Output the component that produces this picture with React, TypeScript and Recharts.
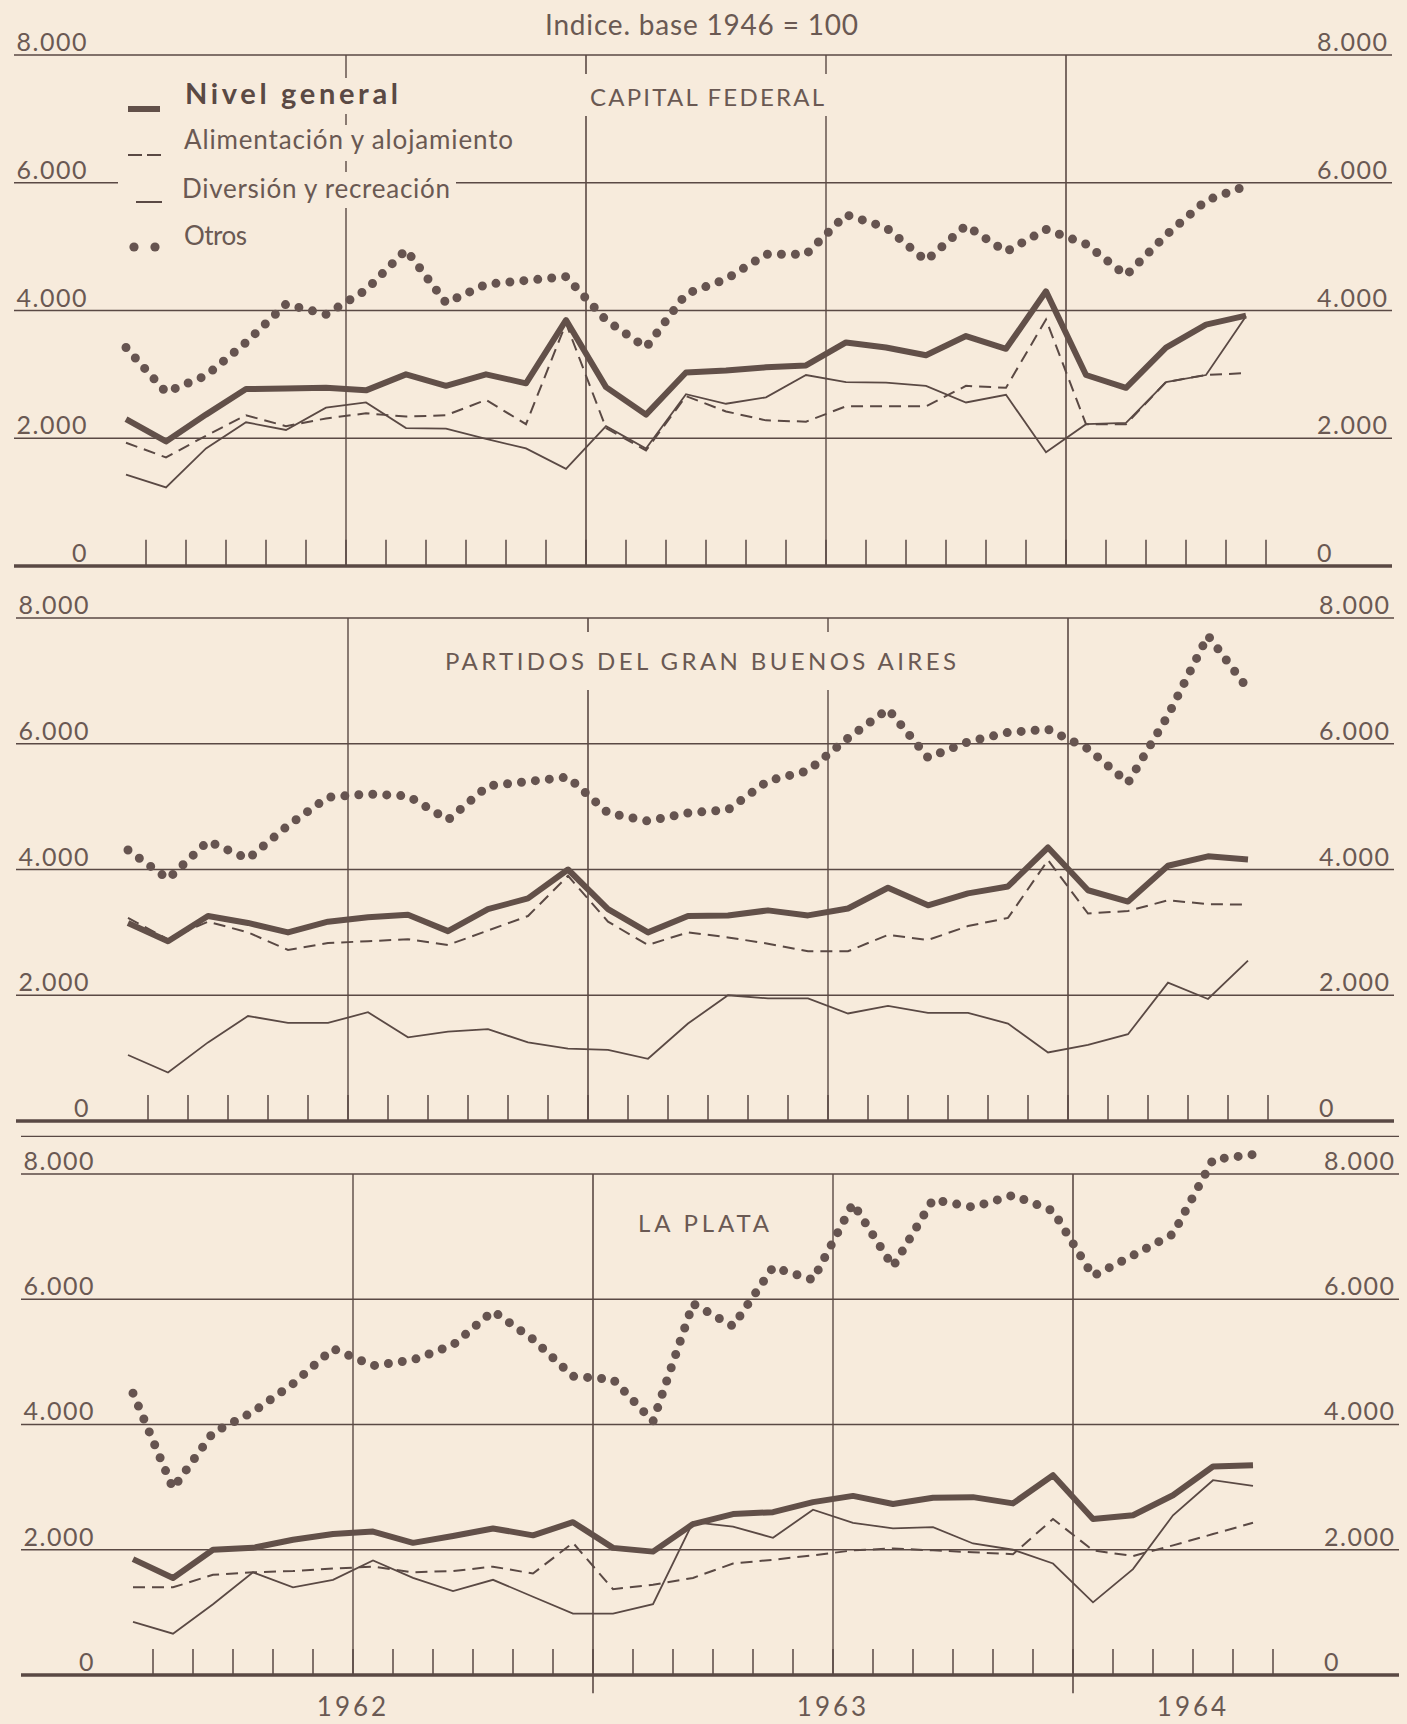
import React from 'react';
import { LineChart, Line, XAxis, YAxis, CartesianGrid, ReferenceLine } from 'recharts';

// ---------- DATA ----------
const months = [
  '1962-01', '1962-02', '1962-03', '1962-04', '1962-05', '1962-06', '1962-07', '1962-08', '1962-09', '1962-10', '1962-11', '1962-12',
  '1963-01', '1963-02', '1963-03', '1963-04', '1963-05', '1963-06', '1963-07', '1963-08', '1963-09', '1963-10', '1963-11', '1963-12',
  '1964-01', '1964-02', '1964-03', '1964-04', '1964-05',
];

// Capital Federal
const capNivel = [2300, 1950, 2370, 2770, 2780, 2790, 2750, 3000, 2820, 3000, 2860, 3850, 2800, 2370, 3030, 3060, 3110, 3140, 3500, 3420, 3300, 3600, 3400, 4300, 2990, 2790, 3420, 3780, 3920];
const capAlim = [1930, 1700, 2040, 2360, 2190, 2310, 2390, 2340, 2360, 2600, 2220, 3800, 2160, 1810, 2660, 2420, 2280, 2260, 2500, 2500, 2500, 2820, 2790, 3860, 2220, 2220, 2880, 2990, 3020];
const capDiv = [1430, 1230, 1840, 2250, 2130, 2480, 2560, 2160, 2150, 1990, 1840, 1520, 2190, 1840, 2690, 2540, 2640, 2990, 2880, 2870, 2820, 2560, 2680, 1780, 2220, 2240, 2880, 2990, 3910];
const capOtros = [3420, 2720, 2980, 3500, 4100, 3940, 4320, 4950, 4120, 4410, 4470, 4530, 3850, 3420, 4260, 4490, 4880, 4880, 5500, 5300, 4780, 5330, 4920, 5270, 5040, 4550, 5180, 5720, 5950];

// Partidos del Gran Buenos Aires
const gbaNivel = [3150, 2860, 3260, 3150, 3000, 3170, 3240, 3280, 3020, 3370, 3540, 4000, 3370, 3000, 3260, 3270, 3350, 3270, 3380, 3710, 3430, 3620, 3730, 4350, 3670, 3490, 4060, 4210, 4160];
const gbaAlim = [3230, 2890, 3170, 3000, 2720, 2830, 2860, 2890, 2800, 3030, 3260, 3900, 3170, 2800, 3000, 2920, 2820, 2700, 2700, 2960, 2880, 3100, 3230, 4150, 3300, 3340, 3510, 3450, 3440];
const gbaDiv = [1050, 770, 1250, 1670, 1560, 1560, 1730, 1330, 1420, 1460, 1250, 1150, 1130, 990, 1550, 2000, 1950, 1950, 1710, 1830, 1720, 1720, 1550, 1090, 1210, 1380, 2200, 1940, 2550];
const gbaOtros = [4310, 3850, 4450, 4170, 4700, 5150, 5200, 5170, 4790, 5330, 5400, 5470, 4900, 4770, 4900, 4950, 5410, 5570, 6090, 6550, 5780, 6030, 6180, 6230, 5920, 5380, 6450, 7720, 6870];

// La Plata
const lpNivel = [1850, 1550, 2000, 2030, 2160, 2250, 2290, 2110, 2220, 2340, 2230, 2440, 2030, 1970, 2410, 2570, 2600, 2760, 2860, 2730, 2830, 2840, 2740, 3190, 2490, 2550, 2870, 3330, 3350];
const lpAlim = [1400, 1400, 1600, 1640, 1660, 1700, 1730, 1640, 1660, 1730, 1620, 2110, 1370, 1440, 1550, 1780, 1840, 1910, 1990, 2020, 1990, 1960, 1930, 2490, 1990, 1900, 2070, 2250, 2430];
const lpDiv = [850, 660, 1130, 1640, 1400, 1520, 1830, 1550, 1340, 1520, 1250, 980, 980, 1130, 2440, 2370, 2190, 2640, 2430, 2340, 2360, 2100, 2000, 1780, 1160, 1690, 2550, 3110, 3020];
const lpOtros = [4500, 2980, 3870, 4200, 4650, 5210, 4940, 5030, 5270, 5810, 5360, 4770, 4720, 4050, 5930, 5570, 6510, 6310, 7530, 6520, 7590, 7470, 7660, 7410, 6370, 6700, 7040, 8230, 8310];

const yTickValues = [0, 2000, 4000, 6000, 8000];
// month boundaries (months since 1 Jan 1962)
const monthTicks = [1, 2, 3, 4, 5, 6, 7, 8, 9, 10, 11, 12, 13, 14, 15, 16, 17, 18, 19, 20, 21, 22, 23, 24, 25, 26, 27, 28, 29];
const halfYearLines = [6, 18];
const yearLines = [12, 24];
const yearLabels = [
  { t: 6, label: '1962' },
  { t: 18, label: '1963' },
  { t: 27, label: '1964' },
];

const seriesLegend = [
  { key: 'nivel', label: 'Nivel general' },
  { key: 'alim', label: 'Alimentación y alojamiento' },
  { key: 'div', label: 'Diversión y recreación' },
  { key: 'otros', label: 'Otros' },
];

const panels = [
  { id: 'cap', title: 'CAPITAL FEDERAL', nivel: capNivel, alim: capAlim, div: capDiv, otros: capOtros },
  { id: 'gba', title: 'PARTIDOS DEL GRAN BUENOS AIRES', nivel: gbaNivel, alim: gbaAlim, div: gbaDiv, otros: gbaOtros },
  { id: 'lp', title: 'LA PLATA', nivel: lpNivel, alim: lpAlim, div: lpDiv, otros: lpOtros },
];

// ---------- STYLE / LAYOUT ----------
const W = 1407;
const H = 1724;
const PAPER = '#f7ebdc';
const INK = '#5a4944';
const TEXT = '#6a5953';
const FONT = "Lato, 'Noto Sans', 'DejaVu Sans', sans-serif";
const X_DOMAIN: [number, number] = [-2.3, 32.15];

const LAYOUT: Record<string, any> = {
  cap: { top: 0, left: 0, height: 600, mTop: 55, axisH: 34, yMax: 8000, tickLen: 410, years: false },
  gba: { top: 585, left: 2, height: 566, mTop: 33, axisH: 30, yMax: 8000, tickLen: 415, years: false },
  lp: { top: 1120, left: 7, height: 604, mTop: 16.4, axisH: 49, yMax: 8600, tickLen: 415, years: true },
};

const fmt = (v: number) => (v === 0 ? '0' : `${Math.floor(v / 1000)}.${String(v % 1000).padStart(3, '0')}`);

const YTick = (props: any) => {
  const { y, payload } = props;
  const label = fmt(payload.value);
  return (
    <g>
      <text x={88} y={y - 4} textAnchor="end" fill={TEXT} fontFamily={FONT} fontSize={25} letterSpacing={1.5}>
        {label}
      </text>
      <text x={1317} y={y - 4} textAnchor="start" fill={TEXT} fontFamily={FONT} fontSize={25} letterSpacing={1.5}>
        {label}
      </text>
    </g>
  );
};

const makeYearTick = (baseline: number) => (props: any) => {
  const { x, payload } = props;
  const item = yearLabels.find((d) => d.t === payload.value);
  return (
    <text x={x} y={baseline} textAnchor="middle" fill={TEXT} fontFamily={FONT} fontSize={26} letterSpacing={3}>
      {item ? item.label : ''}
    </text>
  );
};

const Panel = ({ panel }: { panel: any }) => {
  const L = LAYOUT[panel.id];
  const rows = months.map((m, i) => ({
    month: m,
    t: i + 0.5,
    nivel: panel.nivel[i],
    alim: panel.alim[i],
    div: panel.div[i],
    otros: panel.otros[i],
  }));
  const plotBottom = L.height - L.axisH;
  return (
    <div style={{ position: 'absolute', left: L.left, top: L.top }}>
      <LineChart width={W} height={L.height} data={rows} margin={{ top: L.mTop, right: 15, bottom: 0, left: 0 }}>
        <CartesianGrid vertical={false} stroke={INK} strokeWidth={1.3} />
        <XAxis
          type="number"
          dataKey="t"
          domain={X_DOMAIN}
          height={L.axisH}
          axisLine={false}
          tickLine={false}
          ticks={L.years ? yearLabels.map((d) => d.t) : []}
          interval={0}
          tick={L.years ? makeYearTick(plotBottom + 41) : false}
        />
        <YAxis
          type="number"
          domain={[0, L.yMax]}
          ticks={yTickValues}
          interval={0}
          width={14}
          axisLine={false}
          tickLine={false}
          tick={YTick}
        />
        {halfYearLines.map((t) => (
          <ReferenceLine key={`h${t}`} segment={[{ x: t, y: 0 }, { x: t, y: 8000 }]} stroke={INK} strokeWidth={1.4} ifOverflow="visible" />
        ))}
        {yearLines.map((t) => (
          <ReferenceLine
            key={`y${t}`}
            segment={[{ x: t, y: L.years ? -290 : 0 }, { x: t, y: 8000 }]}
            stroke={INK}
            strokeWidth={1.6}
            ifOverflow="visible"
          />
        ))}
        {monthTicks.map((t) => (
          <ReferenceLine key={`m${t}`} segment={[{ x: t, y: 0 }, { x: t, y: L.tickLen }]} stroke={INK} strokeWidth={1.5} ifOverflow="visible" />
        ))}
        <ReferenceLine y={0} stroke={INK} strokeWidth={3.5} />
        <Line type="linear" dataKey="div" stroke={INK} strokeWidth={1.8} dot={false} activeDot={false} isAnimationActive={false} />
        <Line
          type="linear"
          dataKey="alim"
          stroke={INK}
          strokeWidth={2}
          strokeDasharray="12 7"
          dot={false}
          activeDot={false}
          isAnimationActive={false}
        />
        <Line
          type="linear"
          dataKey="otros"
          stroke="#665450"
          strokeWidth={9}
          strokeDasharray="0 14"
          strokeLinecap="round"
          dot={false}
          activeDot={false}
          isAnimationActive={false}
        />
        <Line
          type="linear"
          dataKey="nivel"
          stroke="#625049"
          strokeWidth={6}
          strokeLinejoin="round"
          dot={false}
          activeDot={false}
          isAnimationActive={false}
        />
      </LineChart>
    </div>
  );
};

const titleBoxes = [
  { id: 'cap', x: 590, y: 106, len: 234, box: [581, 74, 248, 42] },
  { id: 'gba', x: 445, y: 670, len: 511, box: [438, 632, 525, 58] },
  { id: 'lp', x: 638, y: 1232, len: 131, box: [632, 1210, 143, 30] },
];

const legendRows = [
  { key: 'nivel', x: 185, y: 104, len: 213, size: 29, weight: 700, box: [118, 78, 290, 36] },
  { key: 'alim', x: 184, y: 149, len: 329, size: 26, weight: 400, box: [118, 125, 402, 36] },
  { key: 'div', x: 182, y: 198, len: 268, size: 26, weight: 400, box: [118, 172, 338, 36] },
  { key: 'otros', x: 184, y: 245, len: 63, size: 26, weight: 400, box: [118, 222, 140, 36] },
];

const LegendMarker = ({ k, y }: { k: string; y: number }) => {
  if (k === 'nivel') return <line x1={128} x2={160} y1={y} y2={y} stroke="#625049" strokeWidth={6} />;
  if (k === 'alim')
    return (
      <g>
        <line x1={128} x2={142} y1={y} y2={y} stroke={INK} strokeWidth={2} />
        <line x1={147} x2={161} y1={y} y2={y} stroke={INK} strokeWidth={2} />
      </g>
    );
  if (k === 'div') return <line x1={136} x2={162} y1={y} y2={y} stroke={INK} strokeWidth={2} />;
  return (
    <g>
      <circle cx={134} cy={y} r={4.6} fill="#665450" />
      <circle cx={155} cy={y} r={4.6} fill="#665450" />
    </g>
  );
};

const markerY: Record<string, number> = { nivel: 109, alim: 155, div: 202, otros: 247 };

export default function App() {
  return (
    <div style={{ position: 'absolute', left: 0, top: 0, width: W, height: H, background: PAPER, overflow: 'hidden' }}>
      {panels.map((p) => (
        <Panel key={p.id} panel={p} />
      ))}
      <svg width={W} height={H} style={{ position: 'absolute', left: 0, top: 0, pointerEvents: 'none' }}>
        <text x={545} y={35} fill={TEXT} fontFamily={FONT} fontSize={28} textLength={313}>
          Indice. base 1946 = 100
        </text>
        {titleBoxes.map((tb) => {
          const p = panels.find((pp) => pp.id === tb.id)!;
          return (
            <g key={tb.id}>
              <rect x={tb.box[0]} y={tb.box[1]} width={tb.box[2]} height={tb.box[3]} fill={PAPER} />
              <text x={tb.x} y={tb.y} fill={TEXT} fontFamily={FONT} fontSize={24} textLength={tb.len}>
                {p.title}
              </text>
            </g>
          );
        })}
        {legendRows.map((r) => {
          const s = seriesLegend.find((d) => d.key === r.key)!;
          return (
            <g key={r.key}>
              <rect x={r.box[0]} y={r.box[1]} width={r.box[2]} height={r.box[3]} fill={PAPER} />
              <LegendMarker k={r.key} y={markerY[r.key]} />
              <text x={r.x} y={r.y} fill={r.weight === 700 ? '#5a4944' : TEXT} fontFamily={FONT} fontSize={r.size} fontWeight={r.weight} textLength={r.len}>
                {s.label}
              </text>
            </g>
          );
        })}
      </svg>
    </div>
  );
}
